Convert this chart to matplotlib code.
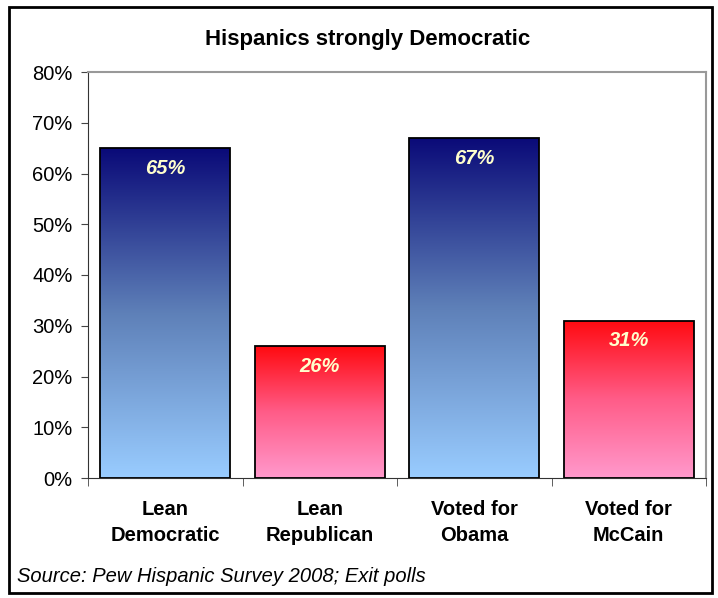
import matplotlib
matplotlib.use("Agg")
import matplotlib.pyplot as plt
import numpy as np
from matplotlib.colors import LinearSegmentedColormap
from matplotlib.patches import Rectangle

categories = ["Lean\nDemocratic", "Lean\nRepublican", "Voted for\nObama", "Voted for\nMcCain"]
values = [65, 26, 67, 31]
labels = ["65%", "26%", "67%", "31%"]
party = ["D", "R", "D", "R"]
yticks = [0, 10, 20, 30, 40, 50, 60, 70, 80]

plt.rcParams['font.family'] = ['Liberation Sans', 'DejaVu Sans']

fig = plt.figure(figsize=(7.18, 5.98), dpi=100)
W, H = 718, 598
ax = fig.add_axes([88 / W, 1 - 478 / H, (706 - 88) / W, (478 - 72) / H])

blue_cmap = LinearSegmentedColormap.from_list("b", ["#99CCFF", "#5E80B8", "#0A0A78"])
red_cmap = LinearSegmentedColormap.from_list("r", ["#FF99CC", "#FF5C88", "#FF0A10"])

x = np.arange(len(categories))
bw = 0.84
bars = ax.bar(x, values, width=bw, facecolor="none", edgecolor="black", linewidth=1.3, zorder=3)
grad = np.linspace(0, 1, 256).reshape(-1, 1)
for b, p, v, lab in zip(bars, party, values, labels):
    x0 = b.get_x()
    cmap = blue_cmap if p == "D" else red_cmap
    im = ax.imshow(grad, cmap=cmap, aspect="auto", origin="lower",
                   extent=[x0, x0 + bw, 0, v], zorder=2)
    im.set_clip_path(b)
    ax.text(x0 + bw / 2, v - 2.1, lab, ha="center", va="top", color="#FFFFCC",
            fontsize=14.5, fontweight="bold", fontstyle="italic", zorder=4)

ax.set_xlim(-0.5, len(categories) - 0.5)
ax.set_ylim(0, 80)
ax.set_yticks(yticks)
ax.set_yticklabels([f"{t}%" for t in yticks], fontsize=14.5)
ax.set_xticks(x)
ax.set_xticklabels(categories, fontsize=14.5, fontweight="bold", linespacing=1.45)
ax.tick_params(axis="x", length=0, pad=16)
ax.set_xticks(np.arange(-0.5, len(categories)), minor=True)
ax.tick_params(axis="x", which="minor", length=5.5, direction="out", color="#444444")
ax.tick_params(axis="y", length=5, direction="out", color="#444444", pad=6)
for s in ["left", "bottom"]:
    ax.spines[s].set_color("#333333")
for s in ["top", "right"]:
    ax.spines[s].set_color("#999999")
    ax.spines[s].set_linewidth(1.5)

fig.text(368 / W, 1 - 40 / H, "Hispanics strongly Democratic", ha="center", va="center",
         fontsize=16, fontweight="bold")
fig.text(17 / W, 1 - 577 / H, "Source: Pew Hispanic Survey 2008; Exit polls", ha="left", va="center",
         fontsize=14.5, fontstyle="italic")

border = Rectangle((9 / W, 1 - 593 / H), (712 - 9) / W, (593 - 7) / H, transform=fig.transFigure,
                   fill=False, edgecolor="black", linewidth=2)
fig.add_artist(border)

fig.savefig("out.png", dpi=100)
